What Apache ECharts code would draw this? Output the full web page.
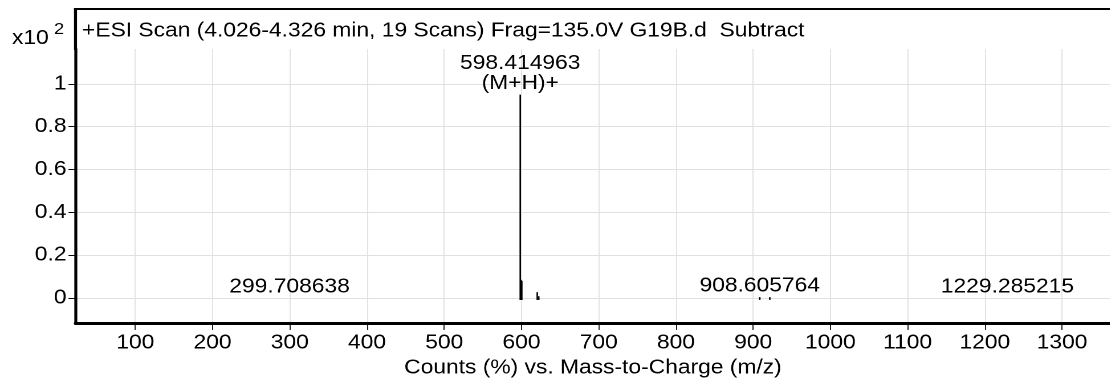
<!DOCTYPE html>
<html>
<head>
<meta charset="utf-8">
<script src="https://cdn.jsdelivr.net/npm/echarts@6/dist/echarts.min.js"></script>
<style>
  html, body { margin: 0; padding: 0; background: #fff; overflow: hidden; }
  #wrap { width: 1110px; height: 380px; overflow: hidden; }
  #chart { height: 380px; transform-origin: 0 0; }
</style>
</head>
<body>
<div id="wrap"><div id="chart"></div></div>
<script>
// ---- data ----
const titleText = '+ESI Scan (4.026-4.326 min, 19 Scans) Frag=135.0V G19B.d  Subtract';
const yScaleText = 'x10';
const yScaleExp = '2';
const xAxisName = 'Counts (%) vs. Mass-to-Charge (m/z)';
const xTicks = [100, 200, 300, 400, 500, 600, 700, 800, 900, 1000, 1100, 1200, 1300];
const yTicks = [0, 0.2, 0.4, 0.6, 0.8, 1];
const peakMz     = [299.708638, 598.414963, 599.42, 600.42, 620.4, 622.4, 908.605764, 921.6, 1229.285215];
const peakCounts = [0,          0.95,       0.085,  0.08,   0.027, 0.008, 0.004,      0.004, 0];
const peakLabels = ['299.708638', '598.414963\n(M+H)+', '', '', '', '', '908.605764', '', '1229.285215'];

// The reference's lettering is horizontally stretched; draw narrower and stretch the page.
const S = 1.14;
const W = 1110 / S;
const FONT = '"Liberation Sans", Arial, sans-serif';
const FS = 20;

const el = document.getElementById('chart');
el.style.width = W + 'px';
el.style.transform = 'scaleX(' + S + ')';

const chart = echarts.init(el, null, { devicePixelRatio: 2 });
chart.setOption({
  animation: false,
  backgroundColor: '#fff',
  textStyle: { fontFamily: FONT },
  grid: { left: 75.5 / S, right: 0, top: 49, bottom: 57, containLabel: false, outerBoundsMode: 'none' },
  xAxis: {
    type: 'value',
    min: 22.5, max: 1362.6,
    name: xAxisName,
    nameLocation: 'middle',
    nameGap: 27,
    nameTextStyle: { color: '#000', fontSize: FS, fontFamily: FONT },
    axisLine: { show: true, onZero: false, lineStyle: { color: '#000', width: 3 } },
    axisTick: { show: true, length: 7, lineStyle: { color: '#000', width: 1 / S }, customValues: xTicks },
    axisLabel: { color: '#000', fontSize: FS, fontFamily: FONT, margin: 10, customValues: xTicks,
                 formatter: v => String(v) },
    splitLine: { show: true, lineStyle: { color: '#e0e0e0', width: 1 / S } }
  },
  yAxis: {
    type: 'value',
    min: -0.117, max: 1.163,
    axisLine: { show: true, onZero: false, lineStyle: { color: '#000', width: 3 / S } },
    axisTick: { show: true, length: 7 / S, lineStyle: { color: '#000', width: 1 }, customValues: yTicks },
    axisLabel: { color: '#000', fontSize: FS, fontFamily: FONT, margin: 9 / S, customValues: yTicks,
                 formatter: v => String(v) },
    splitLine: { show: true, lineStyle: { color: '#e0e0e0', width: 1 } }
  },
  graphic: [
    { type: 'line', shape: { x1: 74 / S, y1: 9, x2: W, y2: 9 }, style: { stroke: '#000', lineWidth: 2 }, z: 100 },
    { type: 'line', shape: { x1: 75.5 / S, y1: 8, x2: 75.5 / S, y2: 50 }, style: { stroke: '#000', lineWidth: 3 / S }, z: 100 },
    { type: 'text', style: { text: titleText, x: 82 / S, y: 31, verticalAlign: 'middle', fill: '#000', font: FS + 'px ' + FONT }, z: 100 },
    { type: 'text', style: { text: yScaleText, x: 12 / S, y: 38.5, verticalAlign: 'middle', fill: '#000', font: FS + 'px ' + FONT }, z: 100 },
    { type: 'text', style: { text: yScaleExp, x: 54 / S, y: 29.5, verticalAlign: 'middle', fill: '#000', font: '16px ' + FONT }, z: 100 }
  ],
  series: [{
    type: 'custom',
    clip: false,
    data: peakMz.map((m, i) => [m, peakCounts[i]]),
    renderItem: function (params, api) {
      const x = api.value(0), y = api.value(1);
      const base = api.coord([x, 0]);
      const top = api.coord([x, y]);
      const children = [];
      if (y > 0) {
        children.push({
          type: 'line',
          shape: { x1: base[0], y1: base[1] + 2, x2: top[0], y2: top[1] },
          style: { stroke: '#000', lineWidth: 1.5 / S }
        });
      }
      const lab = peakLabels[params.dataIndex];
      if (lab) {
        children.push({
          type: 'text',
          style: {
            text: lab, x: top[0], y: top[1] - 1,
            align: 'center', verticalAlign: 'bottom',
            fill: '#000', font: FS + 'px ' + FONT, lineHeight: 20
          }
        });
      }
      return { type: 'group', children: children };
    }
  }]
});
</script>
</body>
</html>
